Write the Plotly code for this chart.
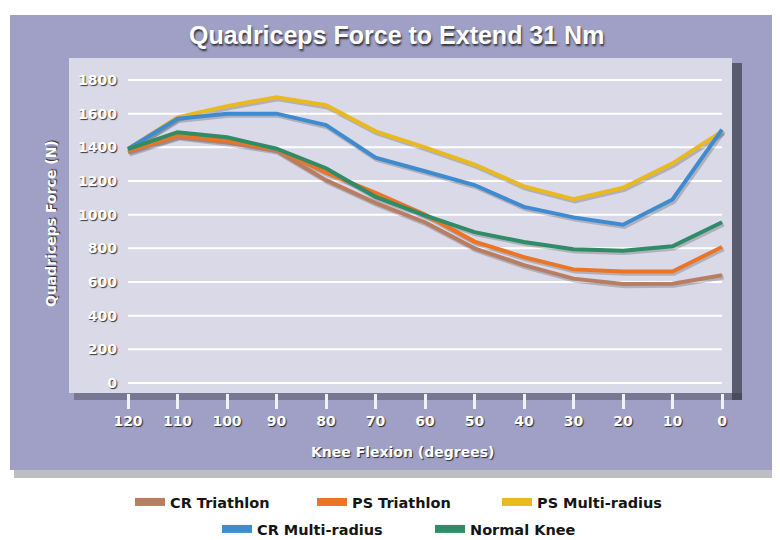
import plotly.graph_objects as go

# ---------------- data ----------------
flexion_deg = [120, 110, 100, 90, 80, 70, 60, 50, 40, 30, 20, 10, 0]
x_tick_labels = ["120", "110", "100", "90", "80", "70", "60", "50", "40", "30", "20", "10", "0"]
y_tick_values = [0, 200, 400, 600, 800, 1000, 1200, 1400, 1600, 1800]

cr_triathlon = [1370, 1465, 1430, 1380, 1205, 1070, 955, 800, 700, 620, 588, 590, 640]
ps_triathlon = [1380, 1470, 1440, 1390, 1250, 1130, 1000, 840, 748, 675, 662, 662, 808]
ps_multi_radius = [1390, 1578, 1645, 1698, 1650, 1495, 1400, 1298, 1168, 1092, 1160, 1305, 1495]
cr_multi_radius = [1390, 1570, 1600, 1600, 1532, 1338, 1258, 1176, 1046, 984, 940, 1090, 1505]
normal_knee = [1390, 1490, 1460, 1392, 1276, 1106, 996, 896, 838, 794, 785, 812, 955]

series_names = ["CR Triathlon", "PS Triathlon", "PS Multi-radius", "CR Multi-radius", "Normal Knee"]
series_values = [cr_triathlon, ps_triathlon, ps_multi_radius, cr_multi_radius, normal_knee]
series_colors = ["#b97e62", "#ea7526", "#e9b91f", "#3f8bcf", "#2f8c66"]

# ---------------- geometry (screen pixels) ----------------
# the page body has an 8px default margin, so the figure is drawn 8px in
OFF = 8
SW, SH = 780, 540
W, H = SW - OFF, SH - OFF
PL, PR, PT, PB = 118, 732, 68, 393   # plot area on screen


def px_x(px):
    return (px - PL) / (PR - PL)


def px_y(py):
    return (PB - py) / (PB - PT)


def cx(px):
    return (px - OFF) / W


def cy(py):
    return 1 - (py - OFF) / H


fig = go.Figure()

# soft line shadows
for vals in series_values:
    fig.add_trace(go.Scatter(
        x=[v - 0.3 for v in flexion_deg], y=[v - 10 for v in vals], mode="lines",
        line=dict(color="rgba(30,30,40,0.22)", width=5), hoverinfo="skip",
        showlegend=False, cliponaxis=False))

# main lines
for name, vals, col in zip(series_names, series_values, series_colors):
    fig.add_trace(go.Scatter(
        x=flexion_deg, y=vals, mode="lines", name=name,
        line=dict(color=col, width=4), showlegend=False, legendgroup=name,
        cliponaxis=False))

# legend entries (each in its own legend for exact placement)
legend_pos = [(135, 502), (317, 502), (502, 502), (222, 529), (435, 529)]
legend_ids = ["legend", "legend2", "legend3", "legend4", "legend5"]
for name, col, lid in zip(series_names, series_colors, legend_ids):
    fig.add_trace(go.Scatter(
        x=[None], y=[None], mode="lines", name=name, legendgroup=name,
        line=dict(color=col, width=8), legend=lid, showlegend=True))

legend_font = dict(family="DejaVu Sans", size=14.5, color="#151515", weight=700)
layout_legends = {}
for (lx, ly), lid in zip(legend_pos, legend_ids):
    layout_legends[lid] = dict(
        xref="container", yref="container",
        x=cx(lx - 5), y=cy(ly), xanchor="left", yanchor="middle",
        bgcolor="rgba(0,0,0,0)", borderwidth=0, font=legend_font,
        itemwidth=30, orientation="h")

shapes = []
# outer purple frame and its shadow
shapes.append(dict(type="rect", xref="paper", yref="paper", layer="below",
                   x0=px_x(14), x1=px_x(790), y0=px_y(478), y1=px_y(470),
                   fillcolor="rgba(70,70,80,0.35)", line=dict(width=0)))
shapes.append(dict(type="rect", xref="paper", yref="paper", layer="below",
                   x0=px_x(10), x1=px_x(790), y0=px_y(470), y1=px_y(15),
                   fillcolor="#a0a0c6", line=dict(width=0)))
# inner panel shadow
shapes.append(dict(type="rect", xref="paper", yref="paper", layer="below",
                   x0=px_x(732), x1=px_x(742), y0=px_y(400), y1=px_y(63),
                   fillcolor="rgba(45,45,55,0.6)", line=dict(width=0)))
shapes.append(dict(type="rect", xref="paper", yref="paper", layer="below",
                   x0=px_x(74), x1=px_x(742), y0=px_y(400), y1=px_y(393),
                   fillcolor="rgba(45,45,55,0.35)", line=dict(width=0)))
# inner panel
shapes.append(dict(type="rect", xref="paper", yref="paper", layer="below",
                   x0=px_x(69), x1=px_x(732), y0=px_y(393), y1=px_y(58),
                   fillcolor="#d9d9e7", line=dict(width=0)))
# horizontal gridlines spanning the data range
for yv in y_tick_values:
    shapes.append(dict(type="line", xref="x", yref="y", layer="below",
                       x0=flexion_deg[0], x1=flexion_deg[-1], y0=yv, y1=yv,
                       line=dict(color="#ffffff", width=2)))

tick_font = dict(family="DejaVu Sans", size=14, color="#ffffff", weight=700,
                 shadow="1px 1px 1px rgba(0,0,0,0.75)")

annotations = [
    dict(text="Quadriceps Force to Extend 31 Nm", xref="paper", yref="paper",
         x=px_x(396), y=px_y(35), showarrow=False, xanchor="center", yanchor="middle",
         font=dict(family="Liberation Sans", size=25, color="#ffffff", weight=700,
                   shadow="1px 2px 2px rgba(0,0,0,0.7)")),
    dict(text="Knee Flexion (degrees)", xref="paper", yref="paper",
         x=px_x(402), y=px_y(452), showarrow=False, xanchor="center", yanchor="middle",
         font=dict(family="DejaVu Sans", size=14, color="#ffffff", weight=700,
                   shadow="1px 1px 1px rgba(0,0,0,0.75)")),
    dict(text="Quadriceps Force (N)", xref="paper", yref="paper",
         x=px_x(51), y=px_y(224), showarrow=False, xanchor="center", yanchor="middle",
         textangle=-90,
         font=dict(family="DejaVu Sans", size=14, color="#ffffff", weight=700,
                   shadow="1px 1px 1px rgba(0,0,0,0.75)")),
]

fig.update_layout(
    width=W, height=H,
    margin=dict(l=PL - OFF, r=SW - PR, t=PT - OFF, b=SH - PB, pad=0, autoexpand=False),
    paper_bgcolor="#ffffff", plot_bgcolor="rgba(0,0,0,0)",
    shapes=shapes, annotations=annotations,
    xaxis=dict(range=[122.02, -2.02], tickmode="array", tickvals=flexion_deg,
               ticktext=x_tick_labels, showgrid=False, zeroline=False,
               ticks="outside", ticklen=15, tickwidth=3, tickcolor="#f2f2f6",
               tickfont=tick_font, showline=False, fixedrange=True),
    yaxis=dict(range=[-59.4, 1871.3], tickmode="array", tickvals=y_tick_values,
               showgrid=False, zeroline=False, ticks="", tickfont=tick_font,
               showline=False, fixedrange=True),
    **layout_legends,
)

fig.write_html("out.html")
